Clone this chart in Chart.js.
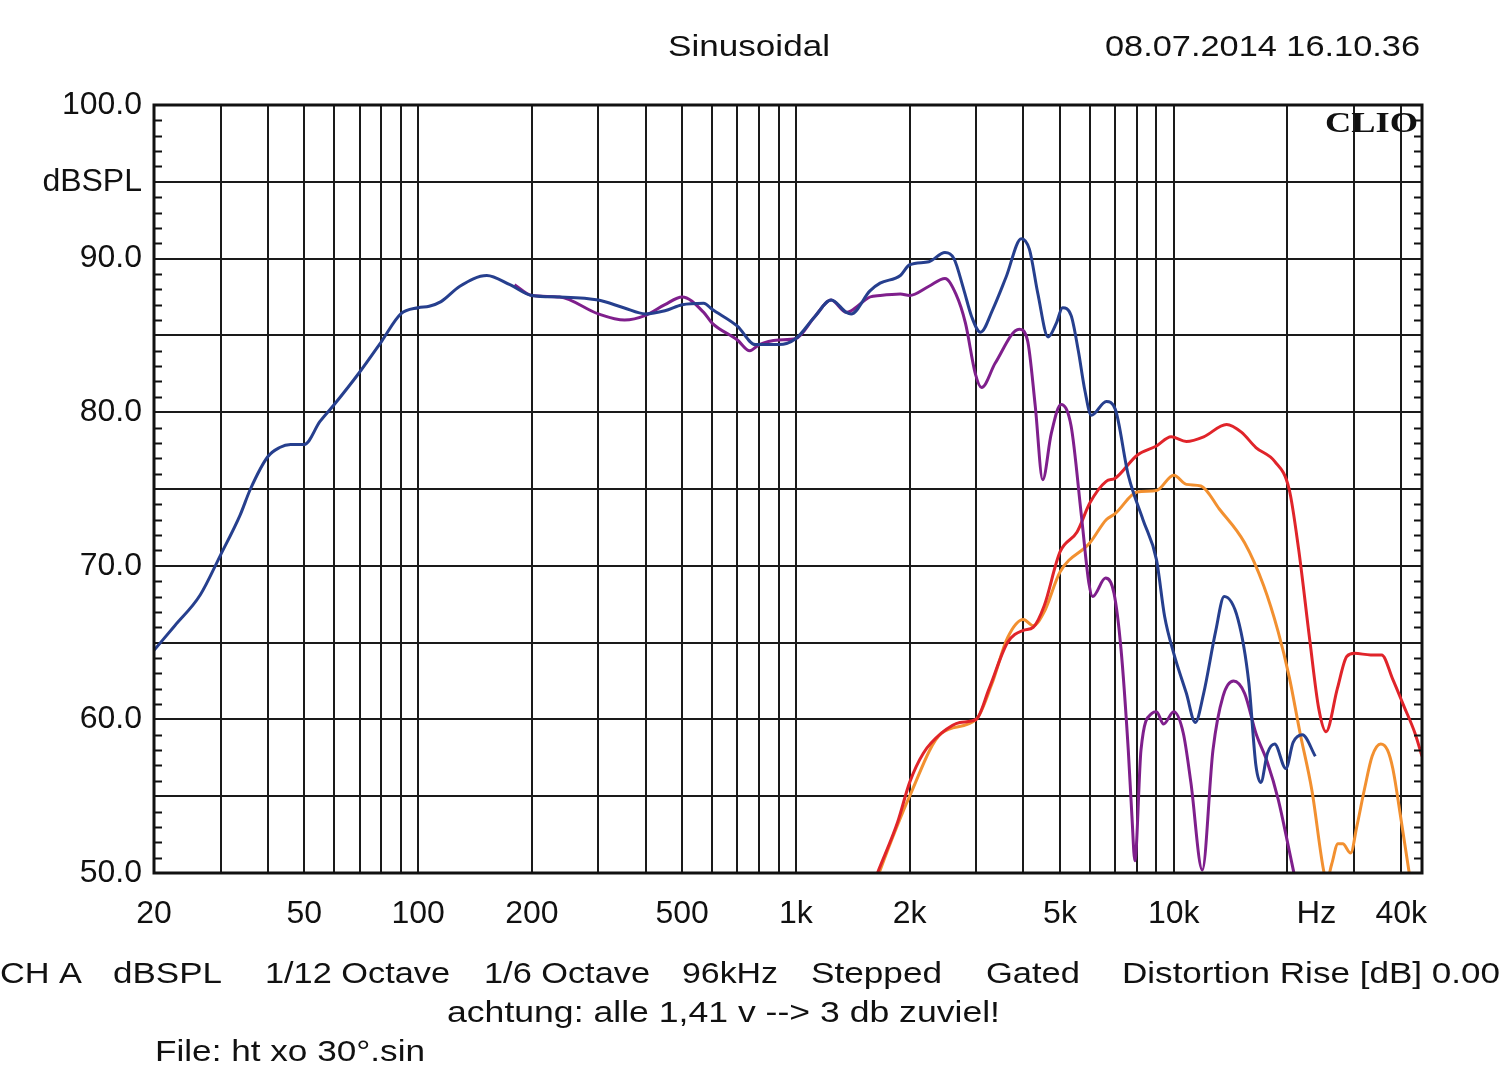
<!DOCTYPE html>
<html>
<head>
<meta charset="utf-8">
<title>Sinusoidal - ht xo 30°</title>
<script src="https://cdn.jsdelivr.net/npm/chart.js@4.4.1/dist/chart.umd.min.js"></script>
<style>
    html, body { margin: 0; padding: 0; background: #fff; }
    canvas { display: block; }
</style>
</head>
<body>
<canvas id="clioChart" width="1500" height="1086"></canvas>
<script>
// 1. Curves (Hz / dBSPL)
const blueFreq = [20, 22.7, 26.5, 30, 33.8, 36, 40, 43, 46, 50, 55, 60, 70, 80, 90, 100, 107, 115, 129, 152,
    175, 200, 237, 300, 350, 400, 450, 500, 570, 600, 700, 780, 800, 900, 1000, 1120, 1240, 1360, 1400, 1570,
    1670, 1890, 2000, 2250, 2480, 2620, 2780, 2920, 3080, 3320, 3600, 3950, 4150, 4370, 4650, 4890, 5080, 5350, 5590, 5820,
    6050, 6630, 7000, 7580, 8290, 9000, 9460, 10000, 10800, 11400, 12000, 12900, 13600, 14800, 15800, 16500, 17000, 17700, 18500, 19800,
    20700, 21900, 23700];
const blueDb = [64.5, 66.1, 68.1, 70.7, 73.3, 75.0, 77.1, 77.7, 77.9, 77.9, 79.4, 80.5, 82.6, 84.6, 86.4, 86.8, 86.9, 87.2, 88.2, 88.9,
    88.3, 87.6, 87.5, 87.3, 86.8, 86.4, 86.6, 87.0, 87.1, 86.7, 85.6, 84.4, 84.4, 84.4, 84.8, 86.2, 87.3, 86.5, 86.4, 87.9,
    88.4, 88.9, 89.6, 89.8, 90.4, 90.0, 88.0, 86.2, 85.2, 86.7, 88.8, 91.3, 90.6, 87.7, 84.9, 85.8, 86.8, 86.3, 84.0, 81.4,
    79.8, 80.7, 80.2, 75.9, 73.0, 70.4, 66.7, 64.3, 61.7, 59.8, 61.7, 65.7, 68.0, 66.5, 62.4, 57.0, 55.9, 57.8, 58.4, 56.8,
    58.5, 59.0, 57.6];

const purpleFreq = [180, 200, 237, 300, 352, 400, 450, 500, 570, 600, 700, 755, 800, 900, 1000, 1120, 1240, 1360, 1400, 1570,
    1670, 1890, 2000, 2250, 2480, 2650, 2810, 2985, 3100, 3370, 3900, 4100, 4300, 4500, 4740, 5030, 5350, 5700, 5960, 6100,
    6600, 6950, 7250, 7580, 7750, 7890, 8190, 8760, 9000, 9400, 10000, 10600, 11100, 11900, 12700, 13500, 14400, 15400, 16500, 17700,
    18900, 20200, 21000];
const purpleDb = [88.3, 87.6, 87.5, 86.4, 86.0, 86.3, 87.0, 87.5, 86.5, 85.8, 84.7, 84.0, 84.4, 84.7, 84.8, 86.2, 87.3, 86.5, 86.6, 87.5,
    87.6, 87.7, 87.6, 88.2, 88.7, 87.7, 85.8, 82.5, 81.6, 83.2, 85.4, 84.7, 80.4, 75.6, 78.6, 80.5, 79.1, 73.2, 68.9, 68.0,
    69.2, 68.2, 64.6, 58.0, 53.7, 50.8, 58.0, 60.4, 60.5, 59.7, 60.5, 59.1, 55.9, 50.2, 58.0, 61.5, 62.5, 61.7, 59.1, 57.2,
    54.8, 51.5, 49.5];

const redFreq = [1560, 1644, 1858, 2000, 2174, 2427, 2716, 3000, 3246, 3630, 4000, 4247, 4541, 5000, 5548, 6000, 6626, 7000, 8000, 9000,
    9840, 10800, 12000, 13800, 15100, 16500, 18500, 20200, 21400, 22900, 24200, 25300, 27100, 28700, 30100, 33200, 35500, 38000, 40600, 43500,
    45400];
const redDb = [48.5, 50.0, 53.3, 55.9, 57.8, 59.1, 59.8, 60.0, 62.0, 65.0, 65.8, 66.0, 67.4, 70.9, 72.2, 74.1, 75.5, 75.7, 77.2, 77.8,
    78.4, 78.1, 78.4, 79.2, 78.7, 77.7, 76.8, 75.0, 71.1, 65.2, 60.7, 59.2, 62.0, 64.1, 64.3, 64.2, 64.2, 62.6, 60.9, 59.1,
    57.6];

const orangeFreq = [1580, 1660, 2000, 2427, 3000, 3300, 3630, 4000, 4247, 4541, 5000, 6000, 6626, 7000, 8000, 9000, 10000, 10800, 11800, 13200,
    15400, 17300, 18900, 20200, 21600, 23200, 25000, 25400, 26200, 27200, 28000, 29400, 30500, 32000, 33500, 35300, 36800, 38000, 40000, 42000,
    43000];
const orangeDb = [48.5, 50.0, 55.0, 59.1, 60.0, 62.3, 65.3, 66.5, 66.1, 67.0, 69.6, 71.5, 73.0, 73.4, 74.8, 74.9, 75.9, 75.3, 75.2, 73.7,
    71.5, 68.7, 65.7, 62.8, 59.1, 55.4, 50.0, 49.5, 50.6, 51.9, 51.9, 51.3, 53.0, 55.5, 57.6, 58.4, 58.0, 56.8, 53.4, 50.0,
    48.5];

// 2. Axis grid and tick labels
const xGridFreqs = [20, 30, 40, 50, 60, 70, 80, 90, 100, 200, 300, 400, 500, 600, 700, 800, 900,
    1000, 2000, 3000, 4000, 5000, 6000, 7000, 8000, 9000, 10000, 20000, 30000, 40000];
const xLabelFreqs = [20, 50, 100, 200, 500, 1000, 2000, 5000, 10000, 40000];
const xLabelTexts = ['20', '50', '100', '200', '500', '1k', '2k', '5k', '10k', '40k'];
const yLabelValues = [100, 95, 90, 80, 70, 60, 50];
const yLabelTexts = ['100.0', 'dBSPL', '90.0', '80.0', '70.0', '60.0', '50.0'];

const FONT = "'Liberation Sans', Arial, sans-serif";
const toPoints = (freqs, dbs) => freqs.map((f, i) => ({ x: f, y: dbs[i] }));

function lineSet(label, freqs, dbs, color) {
    return {
        label: label,
        data: toPoints(freqs, dbs),
        borderColor: color,
        borderWidth: 3,
        pointRadius: 0,
        cubicInterpolationMode: 'monotone',
        clip: 0
    };
}

// draw text squeezed/stretched to a measured width
function fitText(ctx, text, x, y, width, align) {
    const w = ctx.measureText(text).width;
    const sx = width / w;
    ctx.save();
    let left = x;
    if (align === 'center') left = x - width / 2;
    if (align === 'right') left = x - width;
    ctx.translate(left, y);
    ctx.scale(sx, 1);
    ctx.textAlign = 'left';
    ctx.fillText(text, 0, 0);
    ctx.restore();
}

const clioDecor = {
    id: 'clioDecor',
    beforeDraw(chart) {
        const ctx = chart.ctx;
        ctx.save();
        ctx.fillStyle = '#fff';
        ctx.fillRect(0, 0, chart.width, chart.height);
        ctx.restore();
    },
    afterDraw(chart) {
        const ctx = chart.ctx;
        const a = chart.chartArea;
        const yS = chart.scales.y;
        const xS = chart.scales.x;
        ctx.save();

        // frame
        ctx.strokeStyle = '#111';
        ctx.lineWidth = 3;
        ctx.strokeRect(a.left, a.top, a.right - a.left, a.bottom - a.top);

        // 1 dB minor ticks on both sides
        ctx.lineWidth = 2;
        ctx.beginPath();
        for (let v = 51; v < 100; v++) {
            if (v % 5 === 0) continue;
            const py = Math.round(yS.getPixelForValue(v)) + 0.5;
            ctx.moveTo(a.left, py); ctx.lineTo(a.left + 8, py);
            ctx.moveTo(a.right - 8, py); ctx.lineTo(a.right, py);
        }
        ctx.stroke();

        ctx.fillStyle = '#111';
        ctx.textBaseline = 'alphabetic';
        ctx.font = '30px ' + FONT;
        fitText(ctx, 'Sinusoidal', 749, 56, 162, 'center');
        fitText(ctx, '08.07.2014 16.10.36', 1420, 56, 315, 'right');

        // unit label in place of the 20k tick
        ctx.font = '32px ' + FONT;
        fitText(ctx, 'Hz', xS.getPixelForValue(20000) + 29, 923, 40, 'center');

        // info lines under the plot
        ctx.font = '30px ' + FONT;
        const infoLefts = [0, 113, 265, 484, 682, 811, 986, 1122];
        const infoWidths = [82, 109, 185, 166, 96, 131, 94, 378];
        const infoTexts = ['CH A', 'dBSPL', '1/12 Octave', '1/6 Octave', '96kHz', 'Stepped', 'Gated', 'Distortion Rise [dB] 0.00'];
        infoTexts.forEach((t, i) => fitText(ctx, t, infoLefts[i], 983, infoWidths[i], 'left'));
        fitText(ctx, 'achtung: alle 1,41 v --> 3 db zuviel!', 447, 1022, 553, 'left');
        fitText(ctx, 'File: ht xo 30°.sin', 155, 1061, 270, 'left');

        // logo
        ctx.font = "bold 30px 'Liberation Serif', 'DejaVu Serif', serif";
        fitText(ctx, 'CLIO', 1418, 132, 93, 'right');
        ctx.restore();
    }
};

const ctx = document.getElementById('clioChart').getContext('2d');

new Chart(ctx, {
    type: 'line',
    plugins: [clioDecor],
    data: {
        datasets: [
            lineSet('Response', blueFreq, blueDb, '#263f8e'),
            lineSet('Response 30°', purpleFreq, purpleDb, '#7f1f8c'),
            lineSet('Distortion A', redFreq, redDb, '#e0242a'),
            lineSet('Distortion B', orangeFreq, orangeDb, '#f29030')
        ]
    },
    options: {
        responsive: false,
        animation: false,
        events: [],
        layout: { padding: { top: 105, right: 78, left: 0, bottom: 0 } },
        plugins: {
            legend: { display: false },
            tooltip: { enabled: false }
        },
        scales: {
            x: {
                type: 'logarithmic',
                min: 20,
                max: 45400,
                afterBuildTicks: (scale) => { scale.ticks = xGridFreqs.map(v => ({ value: v })); },
                afterFit: (scale) => { scale.height = 1086 - 873; },
                grid: { color: '#1a1a1a', lineWidth: 2, drawTicks: false },
                border: { display: false },
                ticks: {
                    autoSkip: false,
                    maxRotation: 0,
                    padding: 22,
                    color: '#111',
                    font: { family: FONT, size: 32 },
                    callback: (value) => {
                        const i = xLabelFreqs.indexOf(value);
                        return i >= 0 ? xLabelTexts[i] : '';
                    }
                }
            },
            y: {
                min: 50,
                max: 100,
                afterFit: (scale) => { scale.width = 154; },
                grid: { color: '#1a1a1a', lineWidth: 2, drawTicks: false },
                border: { display: false },
                ticks: {
                    stepSize: 5,
                    padding: 12,
                    color: '#111',
                    font: { family: FONT, size: 32 },
                    callback: (value) => {
                        const i = yLabelValues.indexOf(value);
                        return i >= 0 ? yLabelTexts[i] : '';
                    }
                }
            }
        }
    }
});
</script>
</body>
</html>
